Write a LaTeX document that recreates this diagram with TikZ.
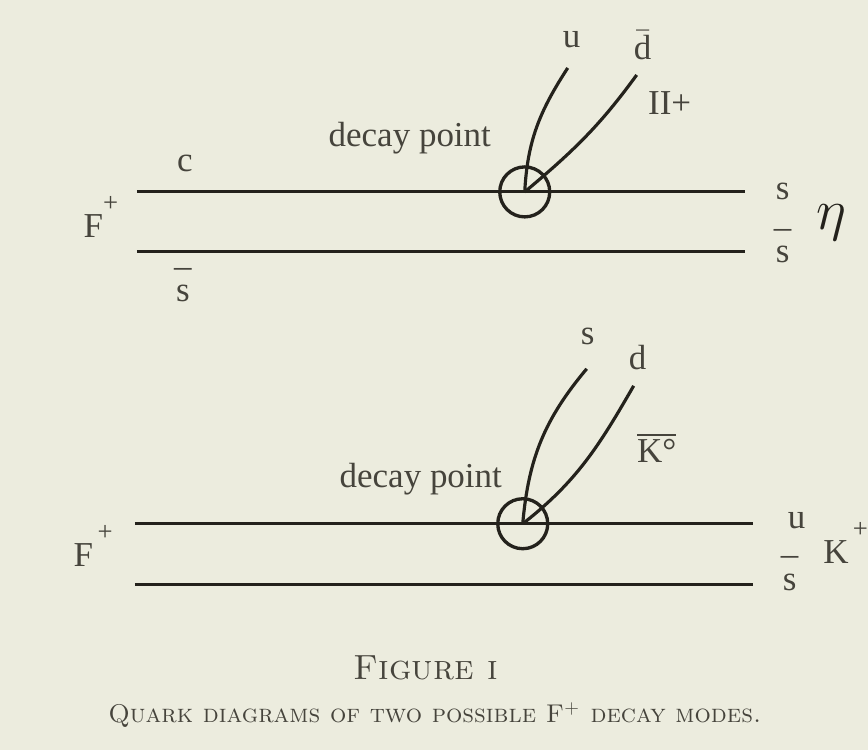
\documentclass[tikz,border=0pt]{standalone}
\usepackage{fontspec}
\newfontfamily\quarkfont{Liberation Serif}
\usetikzlibrary{positioning}
\definecolor{paper}{RGB}{236,236,222}
\definecolor{ink}{RGB}{36,34,28}
\definecolor{print}{RGB}{70,68,60}

\begin{document}
\begin{tikzpicture}[
    x=0.3pt, y=-0.3pt,
    every node/.style={font=\quarkfont\fontsize{10.5}{12}\selectfont, text=print, inner sep=0pt},
    quark/.style={draw=ink, line width=0.9pt},
    track/.style={draw=ink, line width=0.95pt},
    vertex/.style={circle, draw=ink, line width=1pt, minimum size=15pt},
    tag/.style={anchor=base},
    charge/.style={anchor=base west},
    meson/.style={font=\fontsize{16}{18}\selectfont, text=ink},
    capline/.style={anchor=base, text=print}
]
\fill[paper] (0,0) rectangle (868,750);

% Top diagram: F+ -> eta pi+
\coordinate (top-c-left) at (137,192);
\coordinate (top-c-right) at (745,192);
\coordinate (top-sbar-left) at (137,252);
\coordinate (top-sbar-right) at (745,252);
\coordinate (top-u-end) at (568,68);
\coordinate (top-dbar-end) at (637,75);
\node[vertex] (top-vertex) at (525,192) {};

\draw[quark] (top-c-left) -- (top-c-right);
\draw[quark] (top-sbar-left) -- (top-sbar-right);
\draw[track] (top-vertex.center) to[out=87, in=237] (top-u-end);
\draw[track] (top-vertex.center) to[out=40, in=234] (top-dbar-end);

\node[tag] (top-u) at (572,48) {u};
\node[tag] (top-dbar) at (643,60) {$\bar{\mbox{d}}$};
\node[tag] (top-pion) at (670,115) {II+};
\node[tag] (top-decay) at (410,147) {decay point};
\node[tag] (top-c) at (185,172) {c};
\node[charge] (top-F) at (83,238) {F\raisebox{8pt}{\footnotesize +}};
\node[tag] (top-sbar) at (183,302) {\shortstack{\textendash\\[-0.5pt]s}};
\node[tag] (top-s-out) at (783,200) {s};
\node[tag] (top-sbar-out) at (783,263) {\shortstack{\textendash\\[-0.5pt]s}};
\node[meson] (top-eta) at (832,223) {$\eta$};

% Bottom diagram: F+ -> K0bar K+
\coordinate (bot-u-left) at (135,524);
\coordinate (bot-u-right) at (753,524);
\coordinate (bot-sbar-left) at (135,585);
\coordinate (bot-sbar-right) at (753,585);
\coordinate (bot-s-end) at (587,369);
\coordinate (bot-d-end) at (634,386);
\node[vertex] (bot-vertex) at (523,524) {};

\draw[quark] (bot-u-left) -- (bot-u-right);
\draw[quark] (bot-sbar-left) -- (bot-sbar-right);
\draw[track] (bot-vertex.center) to[out=85, in=230] (bot-s-end);
\draw[track] (bot-vertex.center) to[out=38, in=240] (bot-d-end);

\node[tag] (bot-s) at (588,345) {s};
\node[tag] (bot-d) at (638,370) {d};
\node[tag] (bot-kaon0) at (657,463) {$\overline{\mbox{K\textdegree}}$};
\node[tag] (bot-decay) at (421,488) {decay point};
\node[charge] (bot-F) at (73,567) {F\raisebox{8pt}{\footnotesize\,+}};
\node[tag] (bot-u-out) at (797,529) {u};
\node[tag] (bot-sbar-out) at (790,591) {\shortstack{\textendash\\[-0.5pt]s}};
\node[charge] (bot-K) at (823,564) {K\raisebox{8pt}{\footnotesize\,+}};

% Caption
\node[capline, font=\fontsize{10.5}{12}\selectfont] (fig-title) at (426,680) {\textsc{Figure i}};
\node[capline, font=\fontsize{7.7}{9}\selectfont] (fig-text) at (435,723) {\textsc{Quark diagrams of two possible F\textsuperscript{+} decay modes.}};

\end{tikzpicture}
\end{document}
